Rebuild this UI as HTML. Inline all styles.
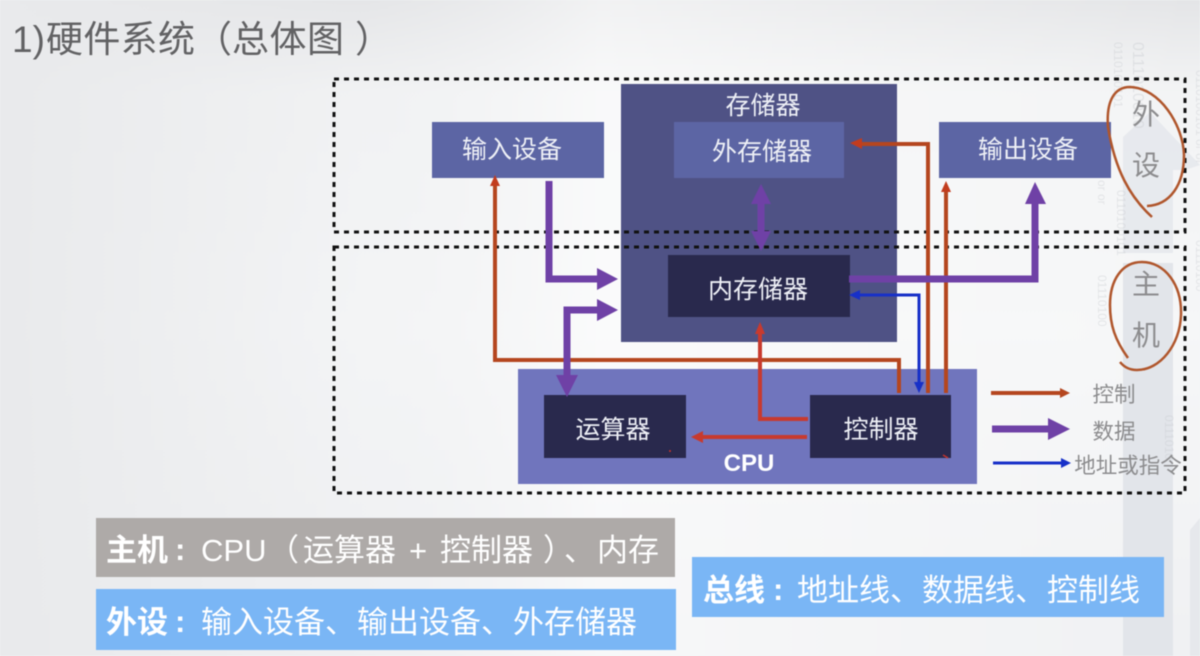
<!DOCTYPE html>
<html><head><meta charset="utf-8"><style>
html,body{margin:0;padding:0;width:1200px;height:656px;overflow:hidden;background:#f4f5f6}
svg{display:block;filter:blur(.6px)}
text{font-family:"Liberation Sans","Noto Sans CJK SC",sans-serif}
</style></head><body>
<svg width="1200" height="656" viewBox="0 0 1200 656" xmlns="http://www.w3.org/2000/svg">
<defs>
<linearGradient id="bg" x1="0" y1="0" x2="0" y2="1"><stop offset="0" stop-color="#e4e5e7"/><stop offset=".14" stop-color="#f3f4f5"/><stop offset=".5" stop-color="#f6f7f8"/><stop offset="1" stop-color="#f0f1f3"/></linearGradient>
<linearGradient id="bgl" x1="0" y1="0" x2="1" y2="0"><stop offset="0" stop-color="#e9eaec"/><stop offset=".3" stop-color="#e9eaec" stop-opacity=".2"/><stop offset=".5" stop-color="#fff" stop-opacity=".5"/><stop offset="1" stop-color="#fff" stop-opacity="0"/></linearGradient>
</defs>
<rect width="1200" height="656" fill="url(#bg)"/>
<rect width="1200" height="656" fill="url(#bgl)"/>
<polygon points="1123,137 1150,112 1200,165 1185,170 1173,170 1173,253 1123,253" fill="#e3e6eb" opacity=".75"/>
<rect x="1123" y="263" width="50" height="393" fill="#e2e5ea"/>
<polygon points="1190,530 1200,518 1200,656 1190,656" fill="#e6e8ec"/>
<g font-size="12" fill="#c4c7cc" opacity=".38">
<text transform="translate(1114,42) rotate(90)">0110100101</text>
<text transform="translate(1133,42) rotate(90)" font-size="16">0111010010</text>
<text transform="translate(1098,180) rotate(90)">or or</text>
<text transform="translate(1117,190) rotate(90)">0110100101</text>
<text transform="translate(1098,275) rotate(90)">01110100</text>
<text transform="translate(1196,70) rotate(90)">0110100101 or or</text>
<text transform="translate(1196,240) rotate(90)">01110100</text>
<text transform="translate(1165,415) rotate(90)">0111010</text>
</g>

<g font-size="37" fill="#626264">
<text x="12" y="52">1)</text>
<text x="46" y="52" textLength="149" lengthAdjust="spacing">硬件系统</text>
<text x="195" y="52">（</text>
<text x="232" y="52" textLength="112" lengthAdjust="spacing">总体图</text>
<text x="355" y="52">）</text>
</g>

<rect x="621" y="84" width="276" height="258" fill="#4f5285"/>
<rect x="432" y="122" width="172" height="56" fill="#5c65a4"/>
<rect x="674" y="122" width="170" height="56" fill="#5c65a4"/>
<rect x="939" y="122" width="172" height="56" fill="#5c65a4"/>
<rect x="668" y="255" width="182" height="62" fill="#29294d"/>
<rect x="518" y="369" width="459" height="115" fill="#7075bd"/>
<rect x="544" y="395" width="142" height="63" fill="#29294d"/>
<rect x="810" y="395" width="141" height="63" fill="#29294d"/>

<g fill="none" stroke="#111" stroke-width="3" stroke-dasharray="5 5">
<rect x="334" y="79" width="851" height="153"/>
<rect x="334" y="247" width="851" height="246"/>
</g>

<g font-size="25" fill="#eef0f6" text-anchor="middle">
<text x="763" y="114">存储器</text>
<text x="512" y="158">输入设备</text>
<text x="762" y="160">外存储器</text>
<text x="1028" y="158">输出设备</text>
<text x="758" y="298">内存储器</text>
<text x="613" y="438">运算器</text>
<text x="881" y="438">控制器</text>
<text x="749" y="471" font-weight="bold" fill="#fff" font-size="24">CPU</text>
</g>

<!-- control -->
<g fill="none" stroke="#b5461f" stroke-width="4">
<polyline points="495,186 495,360 899,360 899,393"/>
<polyline points="861,144 928,144 928,393"/>
<line x1="946" y1="190" x2="946" y2="393"/>
<line x1="991" y1="393" x2="1062" y2="393"/>
</g>
<g fill="#c23c1e">
<polygon points="495,175 490,186 500,186"/>
<polygon points="850,143 862,138 862,149"/>
<polygon points="946,181 941,192 951,192"/>
<polygon points="1070,393 1060,388 1060,398" fill="#b5461f"/>
</g>
<g fill="none" stroke="#c83a2e" stroke-width="4">
<polyline points="808,419 760,419 760,332"/>
<line x1="700" y1="437" x2="807" y2="437"/>
</g>
<polygon points="760,322 755,334 765,334" fill="#c83a2e"/>
<polygon points="691,437 703,431 703,443" fill="#c83a2e"/>
<circle cx="670" cy="451" r="1" fill="#c8342c"/>
<line x1="943" y1="455" x2="948" y2="458" stroke="#c8342c" stroke-width="1.5"/>

<!-- data -->
<g fill="none" stroke="#6f41a6" stroke-width="7">
<polyline points="549,181 549,279 600,279"/>
<polyline points="600,310 567,310 567,380"/>
<polyline points="849,279 1035,279 1035,200"/>
<line x1="761" y1="200" x2="761" y2="234"/>
<line x1="992" y1="429" x2="1050" y2="429"/>
</g>
<g fill="#6f41a6">
<polygon points="618,279 597,268 597,290"/>
<polygon points="618,310 597,299 597,321"/>
<polygon points="567,397 556,375 578,375"/>
<polygon points="1035,182 1025,204 1046,204"/>
<polygon points="761,184 751,204 771,204"/>
<polygon points="761,251 751,231 771,231"/>
<polygon points="1070,429 1048,418 1048,440"/>
</g>

<!-- address -->
<g fill="none" stroke="#1730c8" stroke-width="3">
<polyline points="858,295 919,295 919,385"/>
<line x1="993" y1="463" x2="1064" y2="463"/>
</g>
<g fill="#1730c8">
<polygon points="849,295 860,290 860,300"/>
<polygon points="919,393 914,382 924,382"/>
<polygon points="1071,463 1061,458 1061,468"/>
</g>

<g fill="#8c8c8e" text-anchor="middle">
<text x="1114" y="402" font-size="21.5">控制</text>
<text x="1114" y="439" font-size="21.5">数据</text>
<text x="1128" y="473" font-size="21.5">地址或指令</text>
<text x="1146" y="124" font-size="28">外</text>
<text x="1146" y="175" font-size="28">设</text>
<text x="1146" y="294" font-size="28">主</text>
<text x="1146" y="345" font-size="28">机</text>
</g>

<g fill="none" stroke="#b0562c" stroke-width="2.5">
<path d="M1152,217 C1130,197 1115,170 1108,127 C1106,100 1115,87 1130,87 C1160,88 1183,125 1184,155 C1184,185 1170,205 1147,206"/>
<path d="M1128,358 C1115,340 1110,325 1110,305 C1110,280 1122,262 1142,262 C1165,262 1182,285 1181,315 C1180,345 1160,370 1137,370 C1130,370 1124,367 1120,362"/>
</g>

<rect x="96" y="518" width="579" height="59" fill="#aeaaa8"/>
<rect x="96" y="589" width="580" height="61" fill="#7ab6f5"/>
<rect x="692" y="557" width="472" height="60" fill="#7ab6f5"/>
<g font-size="31" fill="#fff">
<text x="106" y="561" font-weight="bold">主机</text>
<text x="175" y="560" font-weight="bold">:</text>
<text x="201" y="561">CPU</text>
<text x="268" y="561">（</text>
<text x="303" y="561">运算器</text>
<text x="409" y="561">+</text>
<text x="440" y="561">控制器</text>
<text x="543" y="561">）</text>
<text x="564" y="561">、</text>
<text x="597" y="561">内存</text>

<text x="106" y="633" font-weight="bold">外设</text>
<text x="175" y="632" font-weight="bold">:</text>
<text x="201" y="633">输入设备、</text>
<text x="357" y="633">输出设备、</text>
<text x="513" y="633">外存储器</text>

<text x="703" y="601" font-weight="bold">总线</text>
<text x="773" y="600" font-weight="bold">:</text>
<text x="797" y="601">地址线、</text>
<text x="922" y="601">数据线、</text>
<text x="1047" y="601">控制线</text>
</g>
</svg>
</body></html>
